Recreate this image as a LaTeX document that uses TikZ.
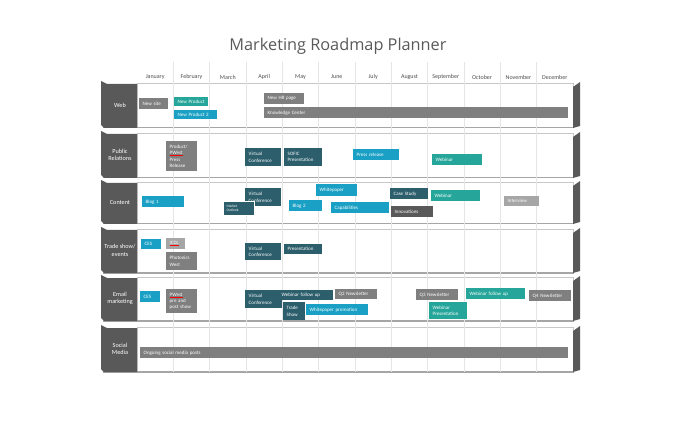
\documentclass[tikz,border=0pt]{standalone}
\usepackage{fontspec}
\setmainfont{Carlito}
\newfontfamily\titlefont{Open Sans}
\usetikzlibrary{positioning}
\definecolor{greyC}{HTML}{7F7F7F}
\definecolor{tealC}{HTML}{26A69A}
\definecolor{cyanC}{HTML}{1AA0C4}
\definecolor{darkC}{HTML}{2C5E6C}
\definecolor{lightC}{HTML}{A6A6A6}
\definecolor{dgreyC}{HTML}{595959}
\definecolor{laneC}{HTML}{595959}
\newcommand{\squig}[1]{\leavevmode\setbox0\hbox{#1}\rlap{\color{red}\rule[-0.9pt]{\wd0}{0.4pt}}#1}

\begin{document}
\begin{tikzpicture}
  [x=1pt,y=-1pt,
   titleN/.style={text=laneC,font=\titlefont\fontsize{16.3}{18}\selectfont},
   monthN/.style={text=black!70,font=\fontsize{6}{7}\selectfont},
   laneN/.style={text=white,align=center,font=\fontsize{6.2}{7.4}\selectfont},
   itemN/.style={anchor=north west,inner xsep=3.5pt,inner ysep=0pt,text=white,
                 align=left,font=\fontsize{5}{6.2}\selectfont},
   gridL/.style={draw=black!10,line width=0.5pt},
   laneEdge/.style={draw=black!22,line width=0.8pt,fill=white},
  ]
 \useasboundingbox (0,0) rectangle (676,427);

 \node[titleN] (title) at (338,46) {Marketing Roadmap Planner};

 \foreach \m [count=\k] in {January,February,March,April,May,June,July,August,September,October,November,December}
   \node[monthN] (m\k) at ({137+36.33*(\k-0.5)},77) {\m};

 \foreach \top/\bot in {83/127,133/177,182/223,229/272,277/320,327/371}
 {
   \draw[laneEdge] (137,\top) rectangle (573,\bot);
   \draw[black!35,line width=1.4pt] (103,\bot+0.8) -- (574,\bot+0.8);
 }

 \foreach \k in {1,...,11}
   \draw[gridL] ({137+36.33*\k},62) -- ({137+36.33*\k},372);

 \foreach \top/\bot/\lbl [count=\n] in {83/127/Web,133/177/{Public\\Relations},182/223/Content,
                                        229/272/{Trade show/\\events},277/320/{Email\\marketing},327/371/{Social\\Media}}
 {
   \fill[laneC] (101,\top-2) -- (107,\top+1) -- (137,\top+1) -- (137,\bot+1)
                -- (104,\bot+1) -- (101,\bot-2) -- cycle;
   \fill[laneC] (573,\top+4) -- (580,\top-1) -- (580,\bot-1) -- (573,\bot+1) -- cycle;
   \node[laneN] (lane\n) at (120,{(\top+\bot)/2}) {\lbl};
 }

 % web
 \node[itemN,fill=greyC,text width=22pt,minimum height=11pt] (newSite) at (139,98) {New site};
 \node[itemN,fill=tealC,text width=27pt,minimum height=9pt] (newProd) at (174,97) {New Product};
 \node[itemN,fill=cyanC,text width=36pt,minimum height=9pt] (newProdTwo) at (174,110) {New Product 2};
 \node[itemN,fill=greyC,text width=33pt,minimum height=11pt] (newHR) at (264,93) {New HR page};
 \node[itemN,fill=greyC,text width=297pt,minimum height=11pt] (knowCenter) at (264,107) {Knowledge Center};

 % public relations
 \node[itemN,fill=greyC,text width=24pt,minimum height=30pt] (prodPR) at (166,141) {Product/\\\squig{PWest}\\Press\\Release};
 \node[itemN,fill=darkC,text width=29pt,minimum height=18pt] (vcPR) at (245,148) {Virtual\\Conference};
 \node[itemN,fill=darkC,text width=31pt,minimum height=18pt] (sofic) at (284,148) {SOFIC\\Presentation};
 \node[itemN,fill=cyanC,text width=39pt,minimum height=11pt] (pressRel) at (353,149) {Press release};
 \node[itemN,fill=tealC,text width=43pt,minimum height=11pt] (webinarPR) at (432,154) {Webinar};

 % content
 \node[itemN,fill=cyanC,text width=35pt,minimum height=11pt] (blogOne) at (142,196) {Blog 1};
 \node[itemN,fill=darkC,text width=29pt,minimum height=18pt] (vcCont) at (245,188) {Virtual\\Conference};
 \node[itemN,fill=darkC,draw=white,line width=0.3pt,text width=24pt,minimum height=14pt,
       font=\fontsize{3.6}{4.3}\selectfont] (mktOutlook) at (223,201) {Market\\Outlook};
 \node[itemN,fill=cyanC,text width=26pt,minimum height=11pt] (blogTwo) at (289,200) {Blog 2};
 \node[itemN,fill=cyanC,text width=34pt,minimum height=12pt] (whitePaper) at (316,184) {Whitepaper};
 \node[itemN,fill=cyanC,text width=51pt,minimum height=11pt] (capab) at (331,202) {Capabilities};
 \node[itemN,fill=darkC,text width=31pt,minimum height=11pt] (caseStudy) at (390,188) {Case Study};
 \node[itemN,fill=dgreyC,text width=35pt,minimum height=11pt] (innov) at (391,206) {Innovations};
 \node[itemN,fill=tealC,text width=42pt,minimum height=11pt] (webinarCont) at (431,190) {Webinar};
 \node[itemN,fill=lightC,text width=28pt,minimum height=10pt] (interview) at (504,196) {Interview};

 % trade show / events
 \node[itemN,fill=cyanC,text width=13pt,minimum height=10pt] (cesTS) at (141,239) {CES};
 \node[itemN,fill=lightC,text width=12pt,minimum height=11pt] (icdl) at (166,238) {\squig{ICDL}};
 \node[itemN,fill=greyC,text width=24pt,minimum height=18pt] (photWest) at (166,252) {Photonics\\West};
 \node[itemN,fill=darkC,text width=29pt,minimum height=17pt] (vcTS) at (245,243) {Virtual\\Conference};
 \node[itemN,fill=darkC,text width=31pt,minimum height=10pt] (presTS) at (284,244) {Presentation};

 % email marketing
 \node[itemN,fill=cyanC,text width=13pt,minimum height=11pt] (cesEM) at (140,291) {CES};
 \node[itemN,fill=greyC,text width=24pt,minimum height=24pt] (pwestEM) at (166,289) {\squig{PWest}\\pre and\\post show};
 \node[itemN,fill=darkC,text width=30pt,minimum height=18pt] (vcEM) at (245,290) {Virtual\\Conference};
 \node[itemN,fill=darkC,text width=48pt,minimum height=10pt] (webFollow) at (278,290) {Webinar follow up};
 \node[itemN,fill=greyC,text width=35pt,minimum height=10pt] (qTwoNews) at (335,289) {Q2 Newsletter};
 \node[itemN,fill=darkC,text width=15pt,minimum height=18pt] (tradeShow) at (283,302) {Trade\\Show};
 \node[itemN,fill=cyanC,text width=55pt,minimum height=11pt] (wpPromo) at (306,304) {Whitepaper promotion};
 \node[itemN,fill=greyC,text width=35pt,minimum height=11pt] (qThreeNews) at (416,289) {Q3 Newsletter};
 \node[itemN,fill=tealC,text width=52pt,minimum height=11pt] (webFollowTwo) at (466,288) {Webinar follow up};
 \node[itemN,fill=greyC,text width=35pt,minimum height=11pt] (qFourNews) at (529,290) {Q4 Newsletter};
 \node[itemN,fill=tealC,text width=31pt,minimum height=17pt] (webPres) at (429,302) {Webinar\\Presentation};

 % social media
 \node[itemN,fill=greyC,text width=421pt,minimum height=11pt] (ongoing) at (140,347) {Ongoing social media posts};

\end{tikzpicture}
\end{document}
